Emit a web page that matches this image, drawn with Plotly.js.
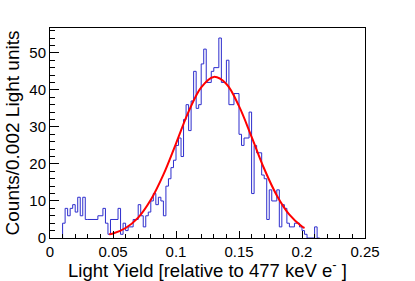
<!DOCTYPE html>
<html>
<head>
<meta charset="utf-8">
<script src="https://cdn.plot.ly/plotly-3.0.1.min.js"></script>
<style>
html,body{margin:0;padding:0;background:#fff;}
#chart{width:415px;height:281px;}
</style>
</head>
<body>
<div id="chart"></div>
<script>
// Histogram: bin low edge, bin width, and counts per bin (0.002 wide bins)
const binLow = 0.010;
const binWidth = 0.002;
const counts = [
  4, 8, 6, 8, 9, 7, 11, 6, 11, 5,
  5, 5, 5, 5, 6, 6, 8, 4, 1, 5,
  5, 5, 8, 1, 4, 2, 3, 3, 5, 5,
  9, 6, 3, 6, 7, 10, 12, 9, 11, 10,
  6, 14, 16, 19, 21, 25, 27, 22, 32, 36,
  29, 37, 45, 35, 36, 47, 51, 42, 42, 45,
  46, 46, 54, 42, 42, 48, 36, 36, 39, 39,
  28, 25, 27, 27, 34, 12, 25, 23, 23, 17,
  16, 5, 13, 10, 10, 13, 3, 9, 8, 4,
  3, 3, 4, 4, 3, 2, 1, 0, 0, 0,
  3, 0
];

// Gaussian fit curve
const fitX = [0.047, 0.05, 0.06, 0.07, 0.08, 0.09, 0.10, 0.11, 0.12, 0.13, 0.14, 0.15, 0.16, 0.17, 0.18, 0.19, 0.20, 0.202];
const fitY = [1.0, 1.2, 2.7, 5.5, 10.3, 17.1, 25.5, 34.1, 40.7, 43.5, 41.6, 35.6, 27.3, 18.7, 11.5, 6.3, 3.1, 2.7];

const xTickVals = [0, 0.05, 0.1, 0.15, 0.2, 0.25];
const xTickText = ['0', '0.05', '0.1', '0.15', '0.2', '0.25'];
const yTickVals = [0, 10, 20, 30, 40, 50];
const yTickText = ['0', '10', '20', '30', '40', '50'];

// Build step outline from bins
const hx = [binLow], hy = [0];
counts.forEach((c, i) => {
  const lo = binLow + i * binWidth;
  const hi = lo + binWidth;
  hx.push(lo, hi);
  hy.push(c, c);
});
hx.push(binLow + counts.length * binWidth);
hy.push(0);

const traces = [
  {x: hx, y: hy, type: 'scatter', mode: 'lines',
   line: {color: 'rgb(45,45,205)', width: 1}, hoverinfo: 'skip'},
  {x: fitX, y: fitY, type: 'scatter', mode: 'lines',
   line: {color: '#ff0000', width: 2, shape: 'spline'}, hoverinfo: 'skip'}
];

const axisCommon = {
  showline: true, linecolor: '#000', linewidth: 1, mirror: true,
  showgrid: false, zeroline: false, ticks: 'inside', tickcolor: '#000',
  tickfont: {family: 'Liberation Sans, Arial, sans-serif', size: 15, color: '#000'}
};

const layout = {
  width: 415, height: 281,
  margin: {l: 50, r: 50, t: 28, b: 43},
  paper_bgcolor: '#fff', plot_bgcolor: '#fff',
  showlegend: false,
  font: {family: 'Liberation Sans, Arial, sans-serif', color: '#000'},
  xaxis: Object.assign({}, axisCommon, {
    range: [0, 0.25], tickmode: 'array', tickvals: xTickVals, ticktext: xTickText,
    ticklen: 7,
    minor: {dtick: 0.01, ticklen: 4, ticks: 'inside', tickcolor: '#000'},
    title: {text: 'Light Yield [relative to 477 keV e<sup>-</sup> ]',
            font: {family: 'Liberation Sans, Arial, sans-serif', size: 18.5, color: '#000'},
            standoff: 0}
  }),
  yaxis: Object.assign({}, axisCommon, {
    range: [0, 56.7], tickmode: 'array', tickvals: yTickVals, ticktext: yTickText,
    ticklen: 9,
    minor: {dtick: 2, ticklen: 5, ticks: 'inside', tickcolor: '#000'},
    title: {text: 'Counts/0.002 Light units',
            font: {family: 'Liberation Sans, Arial, sans-serif', size: 19, color: '#000'},
            standoff: 4}
  })
};

Plotly.newPlot('chart', traces, layout, {staticPlot: true, displayModeBar: false});
</script>
</body>
</html>
